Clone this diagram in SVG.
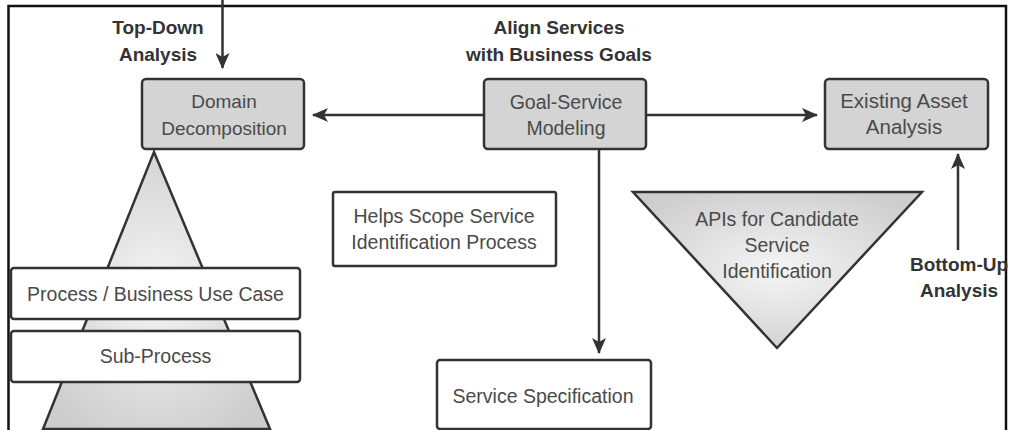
<svg xmlns="http://www.w3.org/2000/svg" width="1012" height="430" viewBox="0 0 1012 430">
  <style>
    .box { stroke: #333; stroke-width: 2.5; }
    .grey { fill: #d4d4d4; }
    .white { fill: #fff; }
    .tri { stroke: #333; stroke-width: 2.5; stroke-linejoin: miter; }
    .lbl { font-family: "Liberation Sans", Arial, sans-serif; font-size: 19.5px; fill: #4a4a4a; text-anchor: middle; }
    .bold { font-family: "Liberation Sans", Arial, sans-serif; font-size: 19px; font-weight: bold; fill: #333; text-anchor: middle; }
    .conn { stroke: #333; stroke-width: 2.5; fill: none; }
  </style>
  <defs>
    <marker id="arrow" viewBox="0 0 16 14" refX="15" refY="7" markerWidth="16" markerHeight="14" markerUnits="userSpaceOnUse" orient="auto">
      <path d="M0,0 L16,7 L0,14 L4,7 Z" fill="#333"/>
    </marker>
    <radialGradient id="shade" cx="0.5" cy="0.5" r="0.6">
      <stop offset="0" stop-color="#f5f5f5"/>
      <stop offset="1" stop-color="#cdcdcd"/>
    </radialGradient>
  </defs>

  <rect x="0" y="0" width="1012" height="430" fill="#fff"/>
  <!-- outer frame -->
  <rect x="8.5" y="6" width="997.5" height="440" fill="none" stroke="#111" stroke-width="2.5"/>

  <!-- labels -->
  <g id="label-top-down">
    <text class="bold" x="158" y="34">Top-Down</text>
    <text class="bold" x="158" y="61">Analysis</text>
  </g>
  <g id="label-align">
    <text class="bold" x="559" y="34">Align Services</text>
    <text class="bold" x="559" y="61">with Business Goals</text>
  </g>
  <g id="label-bottom-up">
    <text class="bold" x="959" y="271">Bottom-Up</text>
    <text class="bold" x="959" y="297">Analysis</text>
  </g>

  <!-- pyramid under domain decomposition -->
  <g id="pyramid">
    <polygon class="tri" points="154,152 270,429 43,429" fill="url(#shade)"/>
  </g>
  <g id="process">
    <rect class="box white" x="11" y="268" width="289" height="51" rx="3"/>
    <text class="lbl" x="155.5" y="301">Process / Business Use Case</text>
  </g>
  <g id="sub-process">
    <rect class="box white" x="11" y="331" width="289" height="51" rx="3"/>
    <text class="lbl" x="155.5" y="363">Sub-Process</text>
  </g>

  <!-- inverted triangle -->
  <g id="apis">
    <polygon class="tri" points="633,192 922,192 777,348" fill="url(#shade)"/>
    <text class="lbl" x="777" y="226">APIs for Candidate</text>
    <text class="lbl" x="777" y="252">Service</text>
    <text class="lbl" x="777" y="278">Identification</text>
  </g>

  <!-- connectors -->
  <g id="connectors">
    <line class="conn" x1="222.5" y1="0" x2="222.5" y2="68" marker-end="url(#arrow)"/>
    <line class="conn" x1="484" y1="115" x2="313" y2="115" marker-end="url(#arrow)"/>
    <line class="conn" x1="646" y1="115" x2="817" y2="115" marker-end="url(#arrow)"/>
    <line class="conn" x1="599" y1="149" x2="599" y2="353" marker-end="url(#arrow)"/>
    <line class="conn" x1="958" y1="250" x2="958" y2="154" marker-end="url(#arrow)"/>
  </g>

  <!-- nodes -->
  <g id="domain-decomposition">
    <rect class="box grey" x="142" y="79" width="162" height="70" rx="4"/>
    <text class="lbl" x="224" y="108" style="font-size:19px">Domain</text>
    <text class="lbl" x="224" y="135" style="font-size:19px">Decomposition</text>
  </g>
  <g id="goal-service-modeling">
    <rect class="box grey" x="484" y="79" width="162" height="70" rx="4"/>
    <text class="lbl" x="566" y="109">Goal-Service</text>
    <text class="lbl" x="566" y="135">Modeling</text>
  </g>
  <g id="existing-asset-analysis">
    <rect class="box grey" x="825" y="79" width="163" height="70" rx="4"/>
    <text class="lbl" x="904" y="108" style="font-size:20.5px">Existing Asset</text>
    <text class="lbl" x="904" y="134" style="font-size:20.5px">Analysis</text>
  </g>
  <g id="helps-scope">
    <rect class="box white" x="333" y="192" width="223" height="74" rx="2"/>
    <text class="lbl" x="444" y="223">Helps Scope Service</text>
    <text class="lbl" x="444" y="249">Identification Process</text>
  </g>
  <g id="service-specification">
    <rect class="box white" x="437" y="360" width="214" height="69" rx="3"/>
    <text class="lbl" x="543" y="403">Service Specification</text>
  </g>
</svg>
